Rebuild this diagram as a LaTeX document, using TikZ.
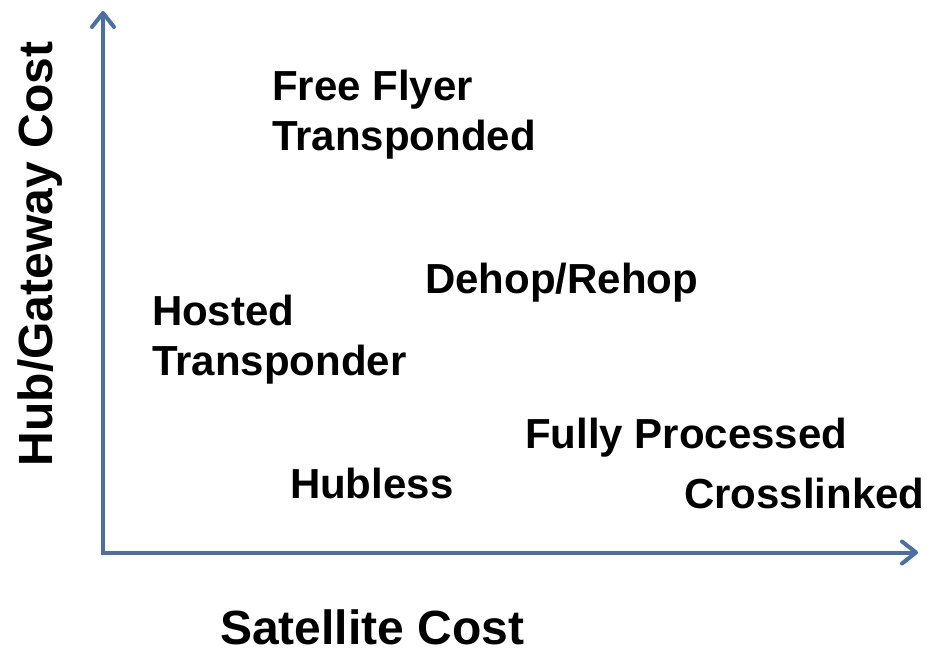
\documentclass[tikz,border=0pt]{standalone}
\usepackage{fontspec}
\setmainfont{Liberation Sans}
\usetikzlibrary{arrows.meta}
\definecolor{axisblue}{RGB}{74,111,165}
\begin{document}
\begin{tikzpicture}[x=1pt,y=1pt,
  lbl/.style={font=\fontsize{42}{50}\selectfont\bfseries, inner sep=0pt, outer sep=0pt, align=left, anchor=north west},
  axlbl/.style={font=\fontsize{48}{56}\selectfont\bfseries, inner sep=0pt, outer sep=0pt},
  axisline/.style={draw=axisblue, line width=4pt,
    -{Straight Barb[length=14pt,width=22pt,line cap=round,line join=round]}}]
\useasboundingbox (0,0) rectangle (932,-651);
\coordinate (origin) at (103,-552.5);
\coordinate (ytop) at (103,-11);
\coordinate (xend) at (918,-552.5);
\draw[axisline] ([yshift=-2pt]origin) -- (ytop);
\draw[axisline] ([xshift=-2pt]origin) -- (xend);
\node[lbl] (ff) at (272,-70) {Free Flyer\\Transponded};
\node[lbl] (dr) at (425,-263) {Dehop/Rehop};
\node[lbl] (ht) at (152,-295) {Hosted\\Transponder};
\node[lbl] (fp) at (525,-418) {Fully Processed};
\node[lbl] (cl) at (684,-478) {Crosslinked};
\node[lbl] (hl) at (290,-468) {Hubless};
\node[axlbl, anchor=base west, text depth=0pt] (xl) at (220,-644) {Satellite Cost};
\node[axlbl, anchor=base west, rotate=90] (yl) at (52,-466) {Hub/Gateway Cost};
\end{tikzpicture}
\end{document}
